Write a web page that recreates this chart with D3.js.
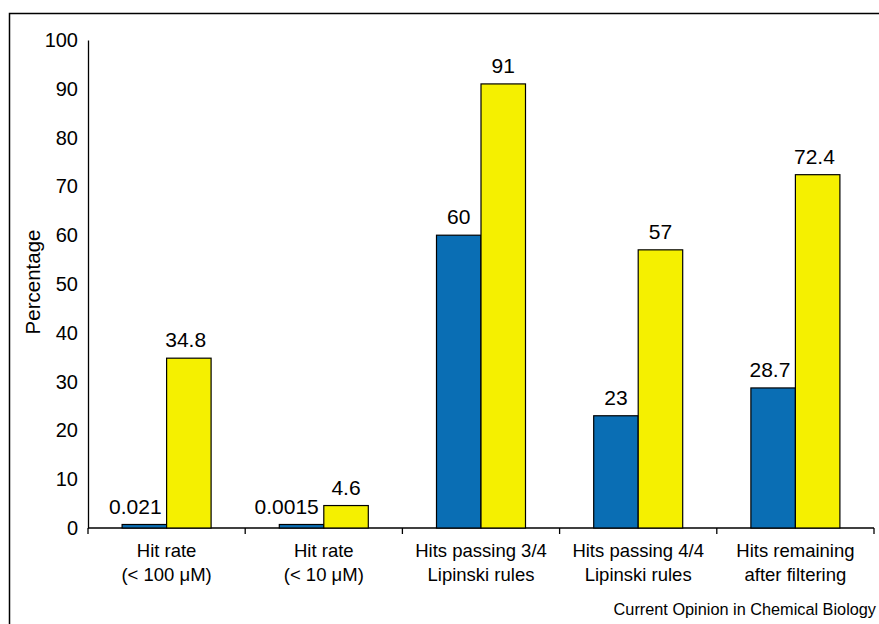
<!DOCTYPE html>
<html><head><meta charset="utf-8">
<script src="https://cdn.jsdelivr.net/npm/d3@7"></script>
<style>html,body{margin:0;padding:0;background:#fff;}svg{display:block;font-family:Arial,"Liberation Sans",sans-serif;}</style>
</head><body>
<script>
const categories = [["Hit rate","(< 100 \u03BCM)"],["Hit rate","(< 10 \u03BCM)"],["Hits passing 3/4","Lipinski rules"],["Hits passing 4/4","Lipinski rules"],["Hits remaining","after filtering"]];
const seriesA = [0.021, 0.0015, 60, 23, 28.7];
const seriesB = [34.8, 4.6, 91, 57, 72.4];
const labelsA = ["0.021","0.0015","60","23","28.7"];
const labelsB = ["34.8","4.6","91","57","72.4"];
const yTicks = [0,10,20,30,40,50,60,70,80,90,100];
const colors = ["#0a6eb4","#f5f000"];

const W=879,H=624;
const svg=d3.select("body").append("svg").attr("width",W).attr("height",H);
// frame
svg.append("path").attr("d","M9.5,"+(H+5)+"V13.5H"+(W+5)).attr("fill","none").attr("stroke","#000").attr("stroke-width",1.5);

const x0=88,x1=874,yTop=40,yBot=528;
const x=d3.scaleBand().domain(d3.range(categories.length)).range([x0,x1]).paddingInner(0).paddingOuter(0);
const y=d3.scaleLinear().domain([0,100]).range([yBot,yTop]);
const bw=44.5;

// y axis
const yAxis=d3.axisLeft(y).tickValues(yTicks).tickSize(0).tickPadding(10);
const gy=svg.append("g").attr("transform","translate("+x0+",0)").call(yAxis);
gy.select(".domain").attr("stroke","#000").attr("stroke-width",1.3);
gy.selectAll("text").attr("font-size",20).attr("font-family","Arial, 'Liberation Sans', sans-serif").attr("fill","#000");

// x axis
svg.append("line").attr("x1",x0).attr("x2",x1).attr("y1",yBot).attr("y2",yBot).attr("stroke","#000").attr("stroke-width",1.3);
const bounds=d3.range(categories.length+1).map(i=> i<categories.length? x(i): x1);
svg.selectAll("line.tk").data(bounds).join("line").attr("class","tk")
  .attr("x1",d=>d).attr("x2",d=>d).attr("y1",yBot).attr("y2",yBot+6).attr("stroke","#000").attr("stroke-width",1.3);

// bars
const groups=svg.append("g");
[seriesA,seriesB].forEach((s,si)=>{
  groups.selectAll("rect.s"+si).data(s).join("rect").attr("class","s"+si)
    .attr("x",(d,i)=>x(i)+x.bandwidth()/2 - bw + si*bw)
    .attr("y",d=>Math.min(y(d), yBot-3.5))
    .attr("width",bw)
    .attr("height",d=>Math.max(yBot-y(d),3.5))
    .attr("fill",colors[si]).attr("stroke","#000").attr("stroke-width",1.2);
});
// value labels
[[seriesA,labelsA],[seriesB,labelsB]].forEach(([s,l],si)=>{
  svg.selectAll("text.v"+si).data(s).join("text").attr("class","v"+si)
    .attr("font-size",21).attr("fill","#000")
    .each(function(d,i){
      const t=d3.select(this).text(l[i]);
      const left=x(i)+x.bandwidth()/2 - bw + si*bw;
      const top=Math.min(y(d), yBot-3.5);
      const w=this.getComputedTextLength();
      if(w>bw-4){ t.attr("text-anchor","end").attr("x",left+bw-5); }
      else { t.attr("text-anchor","middle").attr("x",left+bw/2); }
      t.attr("y",top-11);
    });
});

// category labels
categories.forEach((c,i)=>{
  const t=svg.append("text").attr("text-anchor","middle").attr("font-size",18.5).attr("fill","#000");
  c.forEach((ln,j)=>t.append("tspan").attr("x",x(i)+x.bandwidth()/2).attr("y",557+j*23.5).text(ln));
});

// y title
svg.append("text").attr("transform","translate(40,282) rotate(-90)").attr("text-anchor","middle")
  .attr("font-size",20.5).attr("fill","#000").text("Percentage");

// source
svg.append("text").attr("x",876).attr("y",615).attr("text-anchor","end").attr("font-size",16.3).attr("fill","#000")
  .text("Current Opinion in Chemical Biology");
</script>
</body></html>
